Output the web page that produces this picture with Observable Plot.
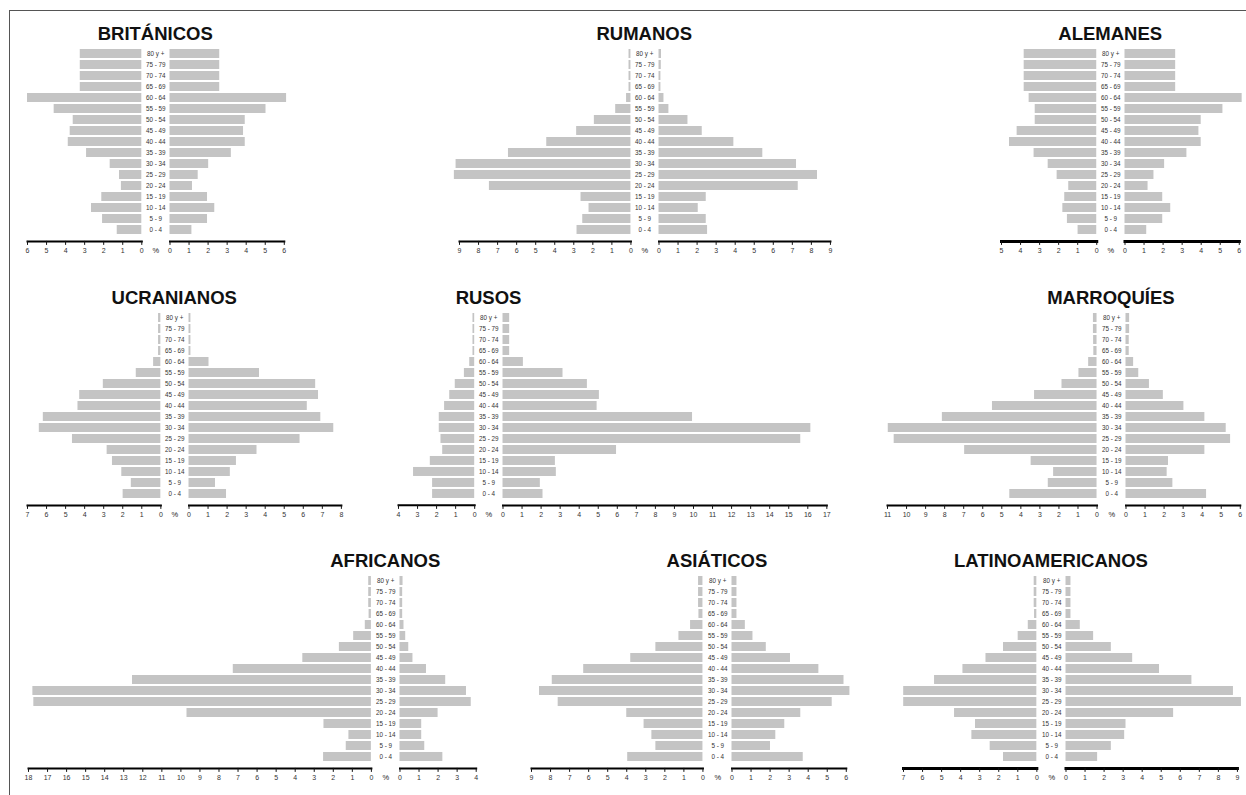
<!DOCTYPE html>
<html>
<head>
<meta charset="utf-8">
<script src="https://cdn.jsdelivr.net/npm/d3@7"></script>
<script src="https://cdn.jsdelivr.net/npm/@observablehq/plot@0.6"></script>
<style>
  html, body { margin: 0; padding: 0; background: #fff; }
  #lienzo { position: relative; width: 1246px; height: 795px; overflow: hidden;
            font-family: "Liberation Sans", Arial, sans-serif; background: #fff; }
  #marco { position: absolute; left: 9px; top: 10px; width: 1400px; height: 900px;
           border-left: 1px solid #555; border-top: 1px solid #555; }
  .titulo { position: absolute; width: 320px; text-align: center; font-weight: bold;
            font-size: 18.5px; line-height: 1; color: #111; white-space: nowrap; }
  .pieza { position: absolute; }
</style>
</head>
<body>
<div id="lienzo"><div id="marco"></div></div>
<script>
// Grupos de edad, de arriba abajo
const edades = ["80 y +", "75 - 79", "70 - 74", "65 - 69", "60 - 64", "55 - 59", "50 - 54",
  "45 - 49", "40 - 44", "35 - 39", "30 - 34", "25 - 29", "20 - 24", "15 - 19",
  "10 - 14", "5 - 9", "0 - 4"];

const grupos = ["BRITÁNICOS", "RUMANOS", "ALEMANES", "UCRANIANOS", "RUSOS",
  "MARROQUÍES", "AFRICANOS", "ASIÁTICOS", "LATINOAMERICANOS"];

// Porcentaje de población por edad (H = hombres, izquierda; M = mujeres, derecha)
const britanicosH = [3.23, 3.23, 3.23, 3.23, 6.0, 4.6, 3.6, 3.76, 3.86, 2.9, 1.66, 1.17, 1.07, 2.1, 2.64, 2.06, 1.29];
const britanicosM = [2.61, 2.61, 2.61, 2.61, 6.12, 5.04, 3.95, 3.86, 3.95, 3.22, 2.03, 1.48, 1.18, 1.97, 2.35, 1.97, 1.15];
const rumanosH = [0.1, 0.1, 0.1, 0.1, 0.23, 0.8, 1.92, 2.85, 4.42, 6.43, 9.18, 9.27, 7.43, 2.62, 2.2, 2.53, 2.83];
const rumanosM = [0.13, 0.12, 0.1, 0.1, 0.26, 0.52, 1.52, 2.27, 3.93, 5.45, 7.22, 8.32, 7.31, 2.48, 2.06, 2.48, 2.55];
const alemanesH = [3.81, 3.81, 3.81, 3.81, 3.55, 3.23, 3.23, 4.18, 4.58, 3.29, 2.55, 2.08, 1.47, 1.68, 1.78, 1.54, 0.98];
const alemanesM = [2.66, 2.66, 2.66, 2.66, 6.15, 5.14, 4.0, 3.88, 4.0, 3.25, 2.08, 1.52, 1.21, 1.98, 2.4, 1.98, 1.14];
const ucranianosH = [0.12, 0.12, 0.12, 0.12, 0.38, 1.29, 3.02, 4.26, 4.35, 6.17, 6.38, 4.64, 2.82, 2.54, 2.05, 1.55, 1.98];
const ucranianosM = [0.1, 0.1, 0.1, 0.1, 1.05, 3.7, 6.65, 6.8, 6.21, 6.92, 7.6, 5.83, 3.57, 2.49, 2.17, 1.39, 1.97];
const rusosH = [0.09, 0.09, 0.09, 0.09, 0.26, 0.54, 1.02, 1.31, 1.58, 1.86, 1.86, 1.77, 1.68, 2.33, 3.21, 2.21, 2.21];
const rusosM = [0.35, 0.35, 0.35, 0.35, 1.07, 3.15, 4.43, 5.06, 4.94, 9.95, 16.16, 15.63, 5.96, 2.75, 2.8, 1.96, 2.1];
const marroquiesH = [0.19, 0.19, 0.18, 0.17, 0.44, 0.95, 1.84, 3.28, 5.49, 8.12, 10.96, 10.65, 6.95, 3.46, 2.28, 2.56, 4.58];
const marroquiesM = [0.19, 0.19, 0.17, 0.17, 0.4, 0.67, 1.23, 1.96, 3.04, 4.14, 5.26, 5.49, 4.14, 2.23, 2.16, 2.46, 4.23];
const africanosH = [0.14, 0.14, 0.14, 0.12, 0.32, 0.93, 1.68, 3.6, 7.25, 12.54, 17.77, 17.72, 9.68, 2.49, 1.18, 1.32, 2.51];
const africanosM = [0.16, 0.14, 0.14, 0.14, 0.21, 0.3, 0.46, 0.68, 1.39, 2.4, 3.49, 3.74, 2.0, 1.14, 1.14, 1.3, 2.25];
const asiaticosH = [0.23, 0.23, 0.23, 0.21, 0.65, 1.26, 2.47, 3.79, 6.26, 7.91, 8.58, 7.6, 4.0, 3.09, 2.68, 2.47, 3.95];
const asiaticosM = [0.26, 0.26, 0.26, 0.26, 0.7, 1.1, 1.8, 3.07, 4.56, 5.88, 6.19, 5.26, 3.61, 2.77, 2.3, 2.02, 3.74];
const latinoamericanosH = [0.14, 0.14, 0.14, 0.12, 0.45, 0.98, 1.75, 2.67, 3.88, 5.37, 6.99, 6.99, 4.32, 3.22, 3.41, 2.45, 1.75];
const latinoamericanosM = [0.26, 0.26, 0.26, 0.26, 0.75, 1.45, 2.38, 3.5, 4.91, 6.61, 8.79, 9.21, 5.65, 3.15, 3.08, 2.38, 1.66];

const hombres = [britanicosH, rumanosH, alemanesH, ucranianosH, rusosH, marroquiesH, africanosH, asiaticosH, latinoamericanosH];
const mujeres = [britanicosM, rumanosM, alemanesM, ucranianosM, rusosM, marroquiesM, africanosM, asiaticosM, latinoamericanosM];

// Extremo de cada eje (% máximo rotulado)
const ejeHombres = [6, 9, 5, 7, 4, 11, 18, 9, 7];
const ejeMujeres = [6, 9, 6, 8, 17, 6, 4, 6, 9];

// Disposición de las pirámides en la lámina
const escala = 19.05;        // píxeles por punto porcentual
const hueco = 28.5;          // columna central de rótulos de edad
const alturaFilas = 193.4;   // alto de la banda de barras
const disposicion = [
  {cero: 141.0, arriba: 45.0, grosor: 2},
  {cero: 630.0, arriba: 45.0, grosor: 2},
  {cero: 1096.0, arriba: 45.0, grosor: 3},
  {cero: 160.0, arriba: 308.6, grosor: 2},
  {cero: 474.3, arriba: 308.6, grosor: 2},
  {cero: 1096.7, arriba: 308.6, grosor: 2},
  {cero: 371.0, arriba: 572.3, grosor: 2},
  {cero: 702.7, arriba: 572.3, grosor: 2},
  {cero: 1036.7, arriba: 572.3, grosor: 3}
];

const lienzo = document.getElementById("lienzo");
const mT = 2, mB = 18, separacionEje = 2.5;
const fuente = "'Liberation Sans', Arial, sans-serif";

function mitad(valores, max, izquierda, d) {
  const datos = edades.map((e, i) => ({edad: e, v: valores[i]}));
  const mL = izquierda ? 8 : hueco;
  const mR = 8;
  const ancho = mL + mR + max * escala;
  const alto = mT + alturaFilas + separacionEje + mB;
  const marcas = [
    Plot.barX(datos, {x: "v", y: "edad", fill: "#c4c4c4"}),
    Plot.frame({anchor: "bottom", stroke: "#000", strokeWidth: d.grosor}),
    Plot.axisX({anchor: "bottom", ticks: d3.range(0, max + 1), tickFormat: (t) => String(t),
      tickSize: 4, tickPadding: 2.5, fontSize: 7, label: null, stroke: "#111", fill: "#333"})
  ];
  if (!izquierda) {
    marcas.push(
      Plot.text(datos, {y: "edad", text: "edad", frameAnchor: "left", dx: -hueco / 2,
        textAnchor: "middle", fontSize: 6.3, fill: "#333"}),
      Plot.text(["%"], {text: (t) => t, frameAnchor: "bottom-left", dx: -hueco / 2, dy: 9.5,
        textAnchor: "middle", lineAnchor: "middle", fontSize: 7.5, fill: "#222"})
    );
  }
  const svg = Plot.plot({
    width: ancho,
    height: alto,
    marginTop: mT,
    marginBottom: mB,
    marginLeft: mL,
    marginRight: mR,
    style: {background: "transparent", overflow: "visible", fontFamily: fuente, maxWidth: "none"},
    x: {domain: izquierda ? [max, 0] : [0, max], label: null},
    y: {type: "band", domain: edades, range: [mT, mT + alturaFilas],
        paddingInner: 0.21, paddingOuter: 0.105, axis: null},
    marks: marcas
  });
  svg.classList.add("pieza");
  svg.style.left = (izquierda ? d.cero - mL - max * escala : d.cero) + "px";
  svg.style.top = (d.arriba - mT) + "px";
  lienzo.appendChild(svg);
}

grupos.forEach((nombre, i) => {
  const d = disposicion[i];
  mitad(hombres[i], ejeHombres[i], true, d);
  mitad(mujeres[i], ejeMujeres[i], false, d);
  const t = document.createElement("div");
  t.className = "titulo";
  t.textContent = nombre;
  const base = d.arriba - 4.3;
  t.style.left = (d.cero + hueco / 2 - 160) + "px";
  t.style.top = (base - 15.66) + "px";
  lienzo.appendChild(t);
});
</script>
</body>
</html>
